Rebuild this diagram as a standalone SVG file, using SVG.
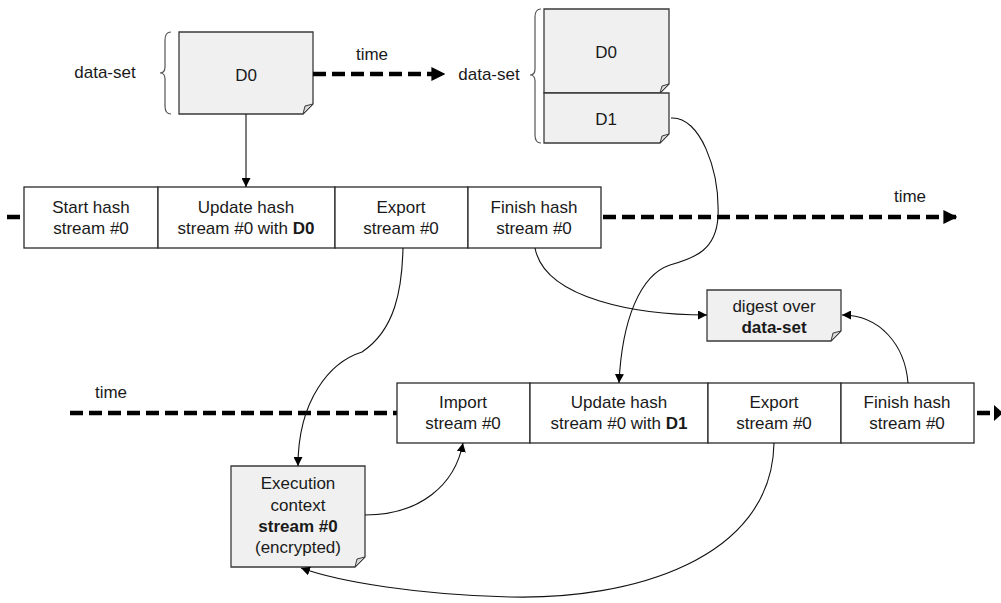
<svg xmlns="http://www.w3.org/2000/svg" width="1001" height="603" viewBox="0 0 1001 603">
<defs>
<style>
text{font-family:"Liberation Sans",Arial,sans-serif;font-size:17px;fill:#1a1a1a;text-anchor:middle}
.b{font-weight:bold}
.note{fill:#f0f0f0;stroke:#3a3a3a;stroke-width:1.3}
.fold{fill:#d8d8d8;stroke:#3a3a3a;stroke-width:1}
.cell{fill:#fff;stroke:#2a2a2a;stroke-width:1.3}
.brace{fill:none;stroke:#555;stroke-width:1.2}
.dash{fill:none;stroke:#000;stroke-width:4.5;stroke-dasharray:13,6}
.con{fill:none;stroke:#111;stroke-width:1.1;marker-end:url(#ah)}
</style>
<marker id="ah" viewBox="0 0 10 10" refX="10" refY="5" markerWidth="9" markerHeight="9" markerUnits="userSpaceOnUse" orient="auto">
<path d="M0,0 L10,5 L0,10 z" fill="#000"/>
</marker>
<marker id="big" viewBox="0 0 10 10" refX="9" refY="5" markerWidth="14" markerHeight="14" markerUnits="userSpaceOnUse" orient="auto">
<path d="M0,0 L10,5 L0,10 z" fill="#000"/>
</marker>
</defs>
<rect width="1001" height="603" fill="#fff"/>

<g id="dataset1">
<text x="105" y="78">data-set</text>
<path class="brace" d="M171,32 Q165,32 165,40 L165,67 Q165,73 160,73 Q165,73 165,79 L165,106 Q165,114 171,114"/>
<path class="note" d="M179,32 H313 V104 L303,114 H179 Z"/>
<path class="fold" d="M303,114 L305,106 L313,104 Z"/>
<text x="246" y="81">D0</text>
</g>

<g id="dataset2">
<text x="489" y="80">data-set</text>
<path class="brace" d="M541,9 Q535,9 535,17 L535,69 Q535,75 530,75 Q535,75 535,81 L535,135 Q535,143 541,143"/>
<path class="note" d="M544,9 H669 V84 L660,93 H544 Z"/>
<path class="fold" d="M660,93 L662,86 L669,84 Z"/>
<text x="606" y="58">D0</text>
<path class="note" d="M544,93 H669 V134 L660,143 H544 Z"/>
<path class="fold" d="M660,143 L662,136 L669,134 Z"/>
<text x="606" y="125">D1</text>
</g>

<g id="time-top">
<text x="372" y="60">time</text>
<path class="dash" d="M313,74 H444" marker-end="url(#big)"/>
</g>

<g id="row1">
<path class="dash" d="M7,217 H20" stroke-dasharray="13,0"/>
<rect class="cell" x="24" y="187" width="134" height="61"/>
<rect class="cell" x="158" y="187" width="177" height="61"/>
<rect class="cell" x="335" y="187" width="133" height="61"/>
<rect class="cell" x="468" y="187" width="133" height="61"/>
<text x="91" y="213">Start hash</text><text x="91" y="234">stream #0</text>
<text x="246" y="213">Update hash</text><text x="246" y="234">stream #0 with <tspan class="b">D0</tspan></text>
<text x="401" y="213">Export</text><text x="401" y="234">stream #0</text>
<text x="534" y="213">Finish hash</text><text x="534" y="234">stream #0</text>
<path class="dash" d="M603,217 H956" marker-end="url(#big)"/>
<text x="910" y="202">time</text>
</g>

<g id="digest">
<path class="note" d="M707,290 H841 V331 L831,341 H707 Z"/>
<path class="fold" d="M831,341 L833,333 L841,331 Z"/>
<text x="774" y="312">digest over</text>
<text x="774" y="333" class="b">data-set</text>
</g>

<g id="row2">
<text x="111" y="398">time</text>
<path class="dash" d="M70,413 H397"/>
<rect class="cell" x="397" y="383" width="133" height="60"/>
<rect class="cell" x="530" y="383" width="178" height="60"/>
<rect class="cell" x="708" y="383" width="133" height="60"/>
<rect class="cell" x="841" y="383" width="133" height="60"/>
<text x="463" y="408">Import</text><text x="463" y="429">stream #0</text>
<text x="619" y="408">Update hash</text><text x="619" y="429">stream #0 with <tspan class="b">D1</tspan></text>
<text x="774" y="408">Export</text><text x="774" y="429">stream #0</text>
<text x="907" y="408">Finish hash</text><text x="907" y="429">stream #0</text>
<path class="dash" d="M977,413 H991" stroke-dasharray="14,0"/>
<path d="M994,405 L1003,413 L994,421 Z" fill="#000"/>
</g>

<g id="exec">
<path class="note" d="M231,466 H365 V557 L355,567 H231 Z"/>
<path class="fold" d="M355,567 L357,559 L365,557 Z"/>
<text x="298" y="489">Execution</text>
<text x="298" y="511">context</text>
<text x="298" y="532" class="b">stream #0</text>
<text x="298" y="553">(encrypted)</text>
</g>

<g id="connectors">
<path class="con" d="M246,114 V187"/>
<path class="con" d="M671,118 C700,116 720,170 718,217 C716,250 695,258 670,265 C640,275 622,320 619,383"/>
<path class="con" d="M403,248 C402,290 395,330 362,352 C330,362 298,400 298,466"/>
<path class="con" d="M535,248 C545,300 640,315 707,315"/>
<path class="con" d="M365,515 C420,515 455,485 463,443"/>
<path class="con" d="M774,443 C772,560 630,600 510,597 C420,595 340,582 301,568"/>
<path class="con" d="M908,383 C905,345 880,315 842,315"/>
</g>
</svg>
